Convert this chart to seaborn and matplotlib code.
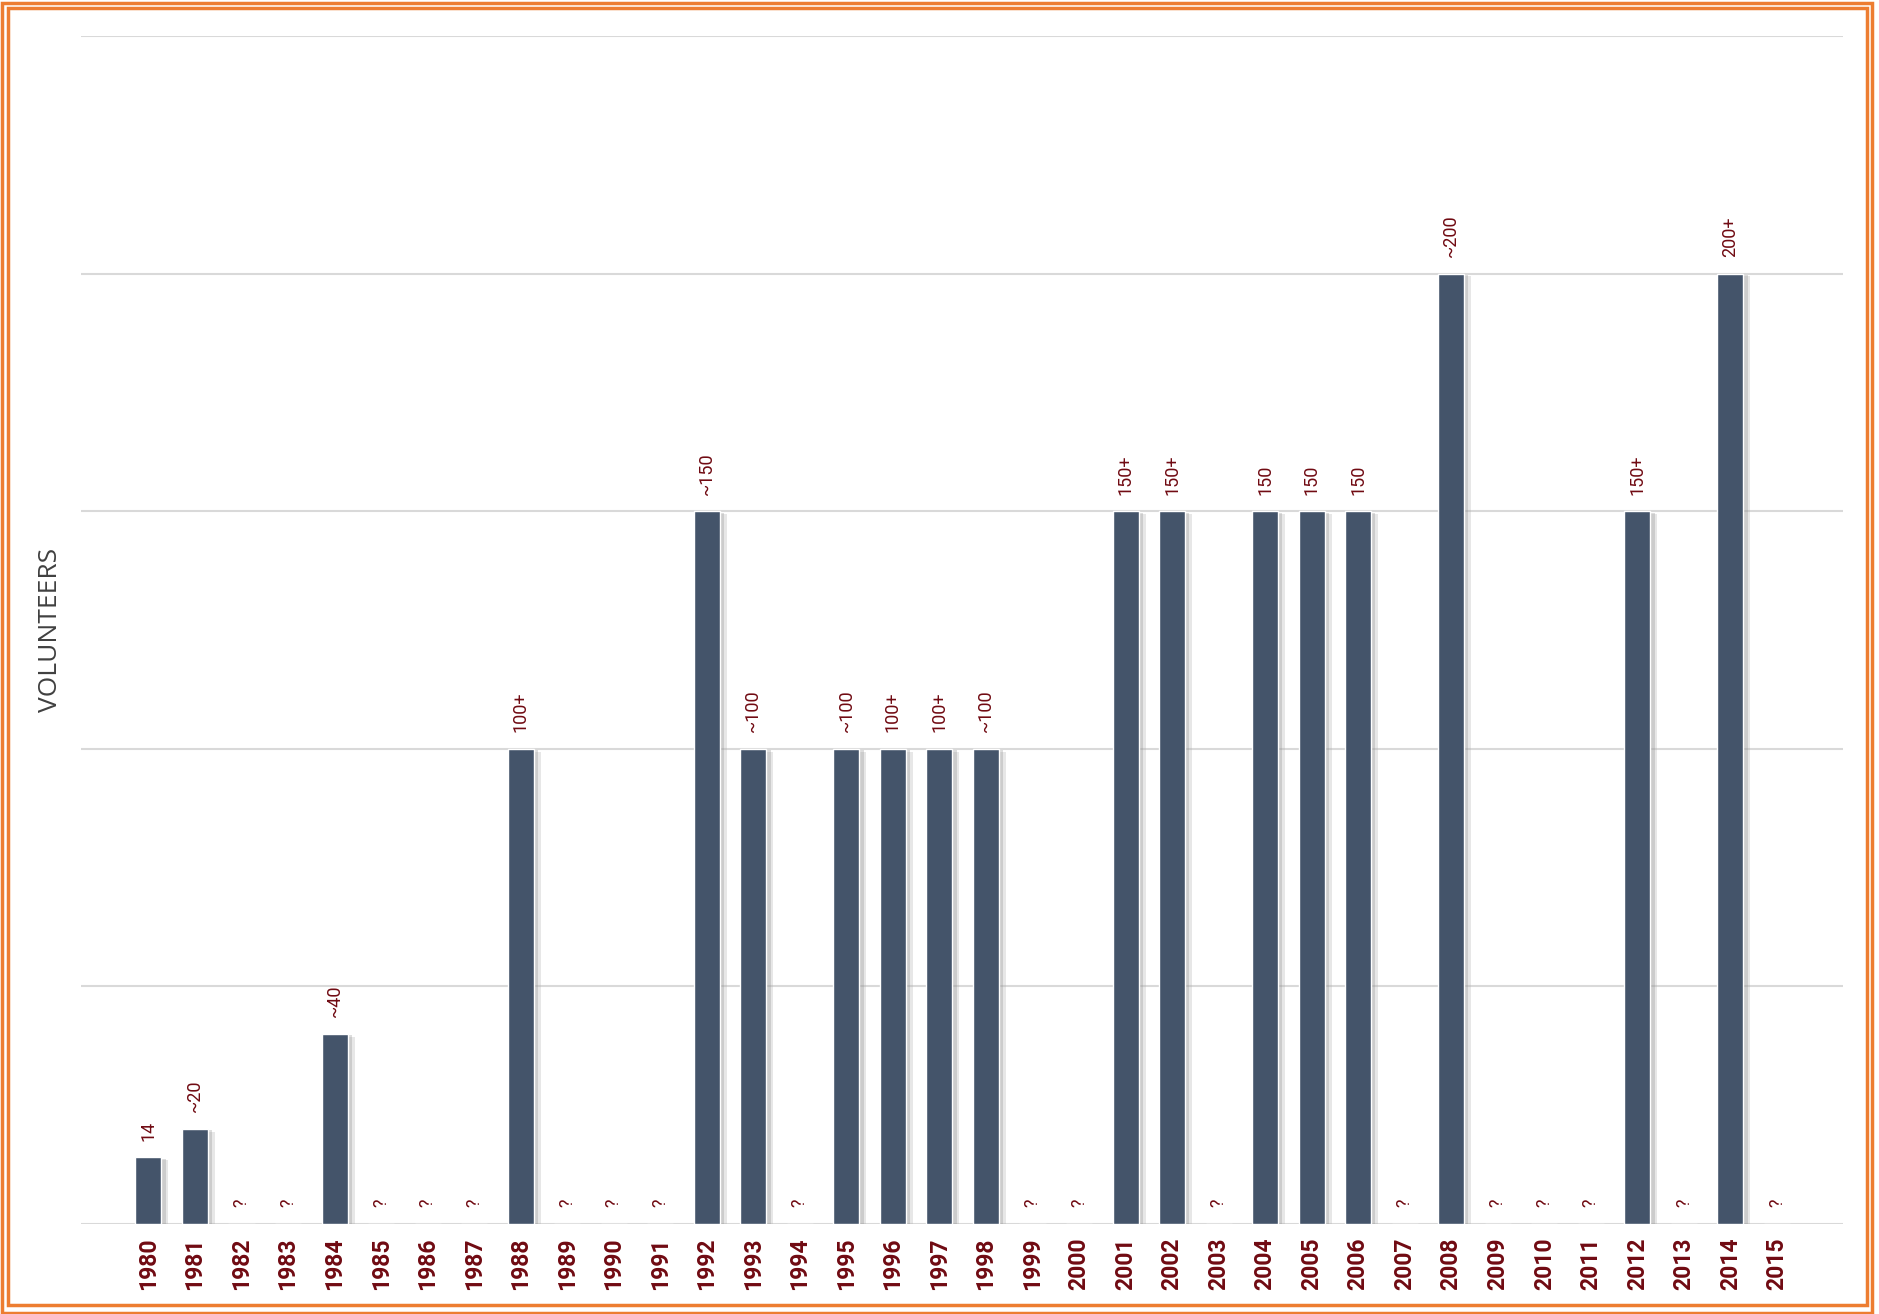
import matplotlib
matplotlib.use('Agg')
import matplotlib.pyplot as plt
import matplotlib.patheffects as pe
from matplotlib.patches import Rectangle
import seaborn as sns
import pandas as pd

# data ("?" years have no bar)
years = [str(y) for y in range(1980, 2016)]
volunteers = [14, 20, 0, 0, 40, 0, 0, 0, 100, 0, 0, 0, 150, 100, 0, 100, 100, 100, 100, 0,
              0, 150, 150, 0, 150, 150, 150, 0, 200, 0, 0, 0, 150, 0, 200, 0]
labels = ['14', '~20', '?', '?', '~40', '?', '?', '?', '100+', '?', '?', '?', '~150', '~100', '?',
          '~100', '100+', '100+', '~100', '?', '?', '150+', '150+', '?', '150', '150', '150', '?',
          '~200', '?', '?', '?', '150+', '?', '200+', '?']

df = pd.DataFrame({'year': years, 'volunteers': volunteers})

sns.set_style('white')
plt.rcParams['font.family'] = ['Roboto', 'DejaVu Sans']

W, H = 1879, 1314
fig = plt.figure(figsize=(W / 100, H / 100), dpi=100)
ax = fig.add_axes([81 / W, 1 - 1224 / H, (1843 - 81) / W, (1224 - 36) / H])

bar_color = '#44546A'
text_red = '#700A12'

sns.barplot(data=df, x='year', y='volunteers', color=bar_color, saturation=1,
            width=0.56, ax=ax, zorder=3)

# soft shadow on the right of each bar
for p in ax.patches:
    p.set_path_effects([pe.SimplePatchShadow(offset=(5, -2), shadow_rgbFace='#b0b0b0', alpha=0.3),
                        pe.SimplePatchShadow(offset=(3, -1), shadow_rgbFace='#909090', alpha=0.3),
                        pe.Normal()])

ax.bar_label(ax.containers[0], labels=labels, rotation=90, padding=12,
             color=text_red, fontsize=13)

ax.set_ylim(0, 250)
ax.set_xlim(-1.45, 36.42)
ax.set_yticks([0, 50, 100, 150, 200, 250])
ax.set_yticklabels([])
ax.grid(axis='y', color='#D9D9D9', linewidth=1.5, zorder=0)
ax.set_axisbelow(True)
for s in ax.spines.values():
    s.set_visible(False)

ax.tick_params(axis='x', length=0, pad=10, labelsize=16.5, labelcolor=text_red, labelrotation=90)
ax.tick_params(axis='y', length=0)
for t in ax.get_xticklabels():
    t.set_fontweight('bold')

ax.set_xlabel('')
ax.set_ylabel('VOLUNTEERS', fontsize=19, color='#404040', family=['Open Sans', 'DejaVu Sans'],
              va='center')
ax.yaxis.set_label_coords((51 - 81) / 1762, 0.5)

# double orange frame
orange = '#ED7D31'
fig.add_artist(Rectangle((1.5 / W, 1.5 / H), (1872 - 1.5) / W, (1311 - 1.5) / H, fill=False,
                         edgecolor=orange, linewidth=2.5, transform=fig.transFigure))
fig.add_artist(Rectangle((8 / W, 1 - 1305 / H), (1867 - 8) / W, (1305 - 8) / H, fill=False,
                         edgecolor=orange, linewidth=2.5, transform=fig.transFigure))

fig.savefig('out.png', dpi=100, facecolor='white')
